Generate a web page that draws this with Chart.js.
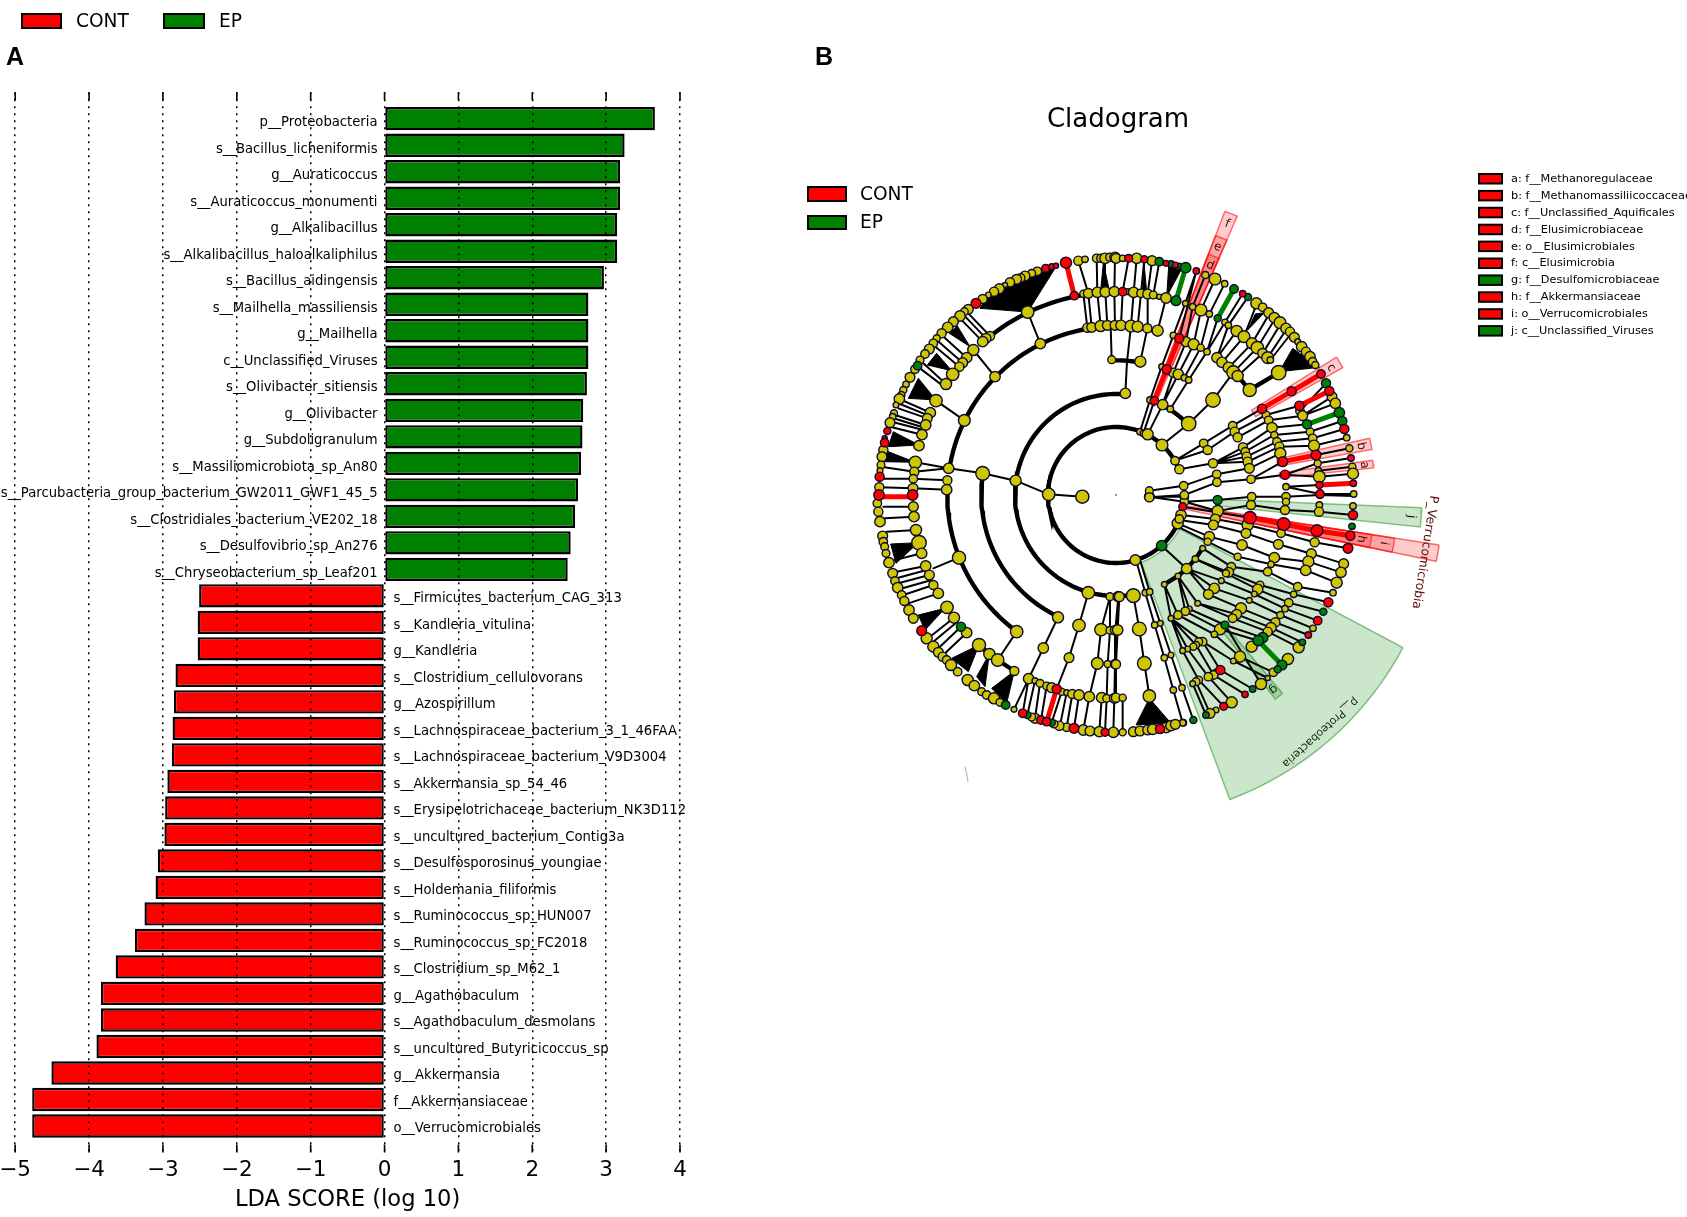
<!DOCTYPE html>
<html><head><meta charset="utf-8">
<style>html,body{margin:0;padding:0;background:#fff;width:1687px;height:1217px;overflow:hidden}
canvas{position:absolute;top:0}#a{left:0}#b{left:720px}</style>
<script src="https://cdn.jsdelivr.net/npm/chart.js@4"></script>
</head><body>
<canvas id="a" width="720" height="1217"></canvas>
<canvas id="b" width="967" height="1217"></canvas>
<script>
/* ---------- Panel A data ---------- */
const groupNames=['CONT','EP'];
const epLabels=['p__Proteobacteria','s__Bacillus_licheniformis','g__Auraticoccus','s__Auraticoccus_monumenti','g__Alkalibacillus','s__Alkalibacillus_haloalkaliphilus','s__Bacillus_aidingensis','s__Mailhella_massiliensis','g__Mailhella','c__Unclassified_Viruses','s__Olivibacter_sitiensis','g__Olivibacter','g__Subdoligranulum','s__Massiliomicrobiota_sp_An80','s__Parcubacteria_group_bacterium_GW2011_GWF1_45_5','s__Clostridiales_bacterium_VE202_18','s__Desulfovibrio_sp_An276','s__Chryseobacterium_sp_Leaf201'];
const epValues=[3.66,3.25,3.19,3.19,3.15,3.15,2.97,2.76,2.76,2.76,2.74,2.69,2.68,2.66,2.62,2.58,2.52,2.48];
const contLabels=['s__Firmicutes_bacterium_CAG_313','s__Kandleria_vitulina','g__Kandleria','s__Clostridium_cellulovorans','g__Azospirillum','s__Lachnospiraceae_bacterium_3_1_46FAA','s__Lachnospiraceae_bacterium_V9D3004','s__Akkermansia_sp_54_46','s__Erysipelotrichaceae_bacterium_NK3D112','s__uncultured_bacterium_Contig3a','s__Desulfosporosinus_youngiae','s__Holdemania_filiformis','s__Ruminococcus_sp_HUN007','s__Ruminococcus_sp_FC2018','s__Clostridium_sp_M62_1','g__Agathobaculum','s__Agathobaculum_desmolans','s__uncultured_Butyricicoccus_sp','g__Akkermansia','f__Akkermansiaceae','o__Verrucomicrobiales'];
const contValues=[-2.51,-2.53,-2.53,-2.83,-2.85,-2.87,-2.88,-2.94,-2.97,-2.98,-3.07,-3.10,-3.25,-3.38,-3.64,-3.84,-3.84,-3.90,-4.51,-4.77,-4.77];
const RED='#ff0000',GREEN='#008000';
const sansFont='"DejaVu Sans"';

/* ---------- Panel B data: clade nodes, flat x,y,size triples per quadrant ---------- */
const yellowNW=[625,32,11,645,28,7,502,64,10,485,70,9,465,78,12,452,84,10,440,88,12,420,97,11,405,105,5,388,116,12,372,125,11,355,135,6,338,147,11,295,178,12,283,185,9,270,198,13,250,215,12,233,232,13,215,250,11,200,265,8,190,280,10,178,297,12,165,312,10,150,330,9,135,358,10,120,382,12,108,403,7,100,420,8,94,435,8,88,447,13,78,465,6,72,490,8,68,500,7,60,518,12,40,600,11,36,620,12,33,645,9,30,662,6,28,712,11,
473,186,16,360,258,11,348,265,12,338,275,13,310,300,14,290,323,13,278,338,12,268,350,11,248,373,16,228,402,14,198,452,16,181,488,13,172,505,12,167,525,13,156,554,13,147,587,13,136,637,16,133,665,11,130,686,10,129,715,12,640,131,8,655,130,12,682,127,13,706,126,13,733,125,13,
511,281,13,375,380,13,283,511,15,236,655,13,232,691,11,230,719,13,652,233,11,665,232,12,692,228,14,712,226,12,735,226,12,338,670,18,725,329,9,437,692,14,536,733,16,637,740,17,680,25,10,693,25,10,705,25,13,720,22,10,735,22,13];
const redNW=[588,38,14,527,55,9,545,50,6,558,47,5,318,160,12,52,543,8,44,565,5,44,578,10,29,680,11,27,735,13,613,137,10,128,735,13];
const greenNW=[143,347,10];

const yellowSW=[130,35,12,132,65,13,138,105,14,147,143,19,155,175,13,167,213,13,178,240,12,190,270,11,205,295,13,231,337,16,252,368,14,290,413,13,327,450,17,358,477,14,383,495,16,433,528,11,
22,25,10,25,50,11,30,80,13,38,123,12,40,140,10,44,155,9,48,175,9,57,203,13,68,235,12,75,258,10,83,278,13,95,300,10,103,318,11,117,345,13,130,370,12,170,430,14,190,455,14,205,472,12,218,485,11,230,495,10,243,510,14,263,530,10,293,555,14,313,572,13,335,590,9,350,600,10,372,610,14,390,622,9,432,643,6,
267,188,17,440,410,16,564,367,14,520,459,13,476,551,13,495,557,6,510,565,9,530,573,9,545,578,12,575,590,8,590,593,6,607,597,11,627,600,13,655,293,16,627,391,16,597,488,12,720,305,9,745,305,13,693,404,16,720,406,9,736,406,12,682,505,15,713,507,8,735,507,11,658,605,13,695,608,13,710,610,9,733,610,12,640,705,13,660,708,12,688,710,13,730,712,13,590,697,10,568,692,11,495,670,12,485,666,9,552,687,9];
const redSW=[155,407,12,560,582,11,458,655,10,513,675,10,530,680,10,705,712,9,612,700,12];
const greenSW=[273,395,11,407,630,10,472,660,8,545,683,8];

const yellowSE=[100,5,12,205,5,10,205,20,10,195,60,13,185,85,14,190,72,10,305,48,14,298,72,12,292,90,12,280,125,13,275,140,8,407,5,10,405,30,11,395,90,14,390,115,12,378,150,13,365,185,8,346,215,10,338,232,12,330,235,8,510,5,10,510,20,8,507,45,11,495,115,10,487,148,12,475,188,13,465,208,7,455,230,10,432,270,9,425,283,13,415,297,6,610,30,7,609,50,11,596,142,11,586,176,12,577,200,14,569,226,13,545,275,10,533,298,7,518,323,10,507,341,7,493,360,8,478,382,11,465,398,13,455,410,11,407,455,14,
711,33,7,683,206,12,675,232,13,662,263,14,651,293,7,591,400,7,548,457,14,516,492,14,472,532,10,455,549,5,435,567,14,347,622,14,300,645,6,282,655,12,202,683,7,
375,340,14,362,358,12,350,370,10,312,403,14,295,418,7,400,316,6,295,280,13,277,298,12,316,257,6,245,325,6,260,160,6,238,192,7,212,221,13,186,243,6,145,268,6,58,195,13,
260,440,10,248,440,9,240,450,8,232,455,8,215,462,6,200,467,6,220,342,6,208,349,10,186,360,10,165,370,6,372,485,14,352,498,6,300,532,7,293,540,10,277,545,10,248,555,9,240,560,9,230,566,6,
116,390,7,133,385,6,145,488,7,165,480,6,172,585,7,198,578,7,200,683,7,88,293,7,101,290,7,10,305,12,52,302,18,5,405,13,0,508,11,0,608,11,20,608,8,20,712,8,70,402,18,85,505,18,100,603,16,52,710,12,72,708,12,95,705,12,110,703,13,150,698,13,165,692,13,178,688,12];
const redSE=[200,35,9,402,68,16,503,87,16,612,0,8,603,107,15,711,60,11,703,122,11,696,160,12,637,322,11,605,377,10,577,420,7,387,598,7,323,634,9,313,525,11,132,702,11];
const greenSE=[305,15,11,440,428,13,708,94,7,622,350,8,559,442,7,498,510,12,485,523,8,410,582,7,270,660,7,232,675,8,327,390,9,137,152,13,427,437,13];

const yellowNE=[0,25,12,20,25,7,62,25,13,108,32,12,35,125,6,53,127,13,75,130,10,95,132,12,112,135,9,130,140,5,150,144,13,15,226,13,45,228,15,65,230,14,94,235,11,125,242,14,73,335,14,28,430,13,
72,545,7,82,550,7,95,553,14,102,450,7,140,464,13,163,477,7,137,350,6,172,368,11,187,373,13,205,383,7,218,390,7,172,256,7,210,275,12,233,283,14,254,293,8,273,305,7,208,160,6,230,170,7,255,180,15,280,192,7,268,75,8,297,87,15,326,101,7,
138,585,15,218,521,19,291,450,19,401,420,17,303,323,13,318,337,13,338,353,14,352,367,17,365,378,14,488,368,19,362,243,14,384,260,15,408,280,14,424,293,16,440,310,12,455,323,15,463,330,7,
421,160,14,440,172,10,458,188,12,475,203,13,492,218,15,510,235,13,522,245,11,535,262,12,545,275,6,557,290,13,570,305,11,582,320,13,590,335,10,598,345,8,327,217,7,337,226,7,
177,632,10,190,658,11,263,580,10,275,600,11,291,640,11,350,527,10,356,545,11,365,562,11,381,592,11,388,605,10,392,620,11,395,635,11,400,655,12,405,688,10,302,673,10,303,697,10,450,495,9,458,511,10,468,533,13,475,555,8,483,575,10,490,590,11,493,610,14,510,710,7,552,483,10,560,497,12,582,545,9,590,565,10,594,587,14,605,640,8,607,662,7,610,680,15,648,440,12,658,460,13,692,563,7,700,595,8,709,650,8,711,671,14,713,732,7,100,722,9,100,742,11,203,707,10,205,735,10];
const redNE=[20,125,10,38,25,9,85,28,8,150,40,6,178,45,6,115,452,10,152,358,11,190,265,11,241,63,7,380,131,7,438,476,11,527,424,11,615,372,10,550,467,11,640,423,11,685,537,11,500,635,12,600,615,12,705,624,7,507,674,11,610,705,8,712,700,7,612,732,10];
const greenNE=[130,35,10,165,42,7,190,47,5,209,53,13,180,152,12,305,205,8,354,117,10,396,141,8,630,400,11,670,488,13,679,513,11,573,523,11];

/* thin branches: each path is x,y,x,y… in the quadrant's units */
const pathsNW=[[637,740,536,733],[437,692,338,670],[338,670,236,655,136,637],[232,691,130,686,30,686],[230,719,129,715,28,712],[511,281,473,186],[375,380,310,300],[283,511,198,452],[437,692,536,733],[360,258,295,190],[348,265,283,197],[338,275,270,205],[290,323,215,255],[278,338,200,270],[268,350,190,285],[228,402,160,340],[222,410,150,355],[181,488,95,450],[176,497,90,462],[172,505,85,475],[167,525,75,495],[164,533,70,505],[160,540,65,515],[156,554,60,530],[133,665,33,650],[236,655,133,665],[652,233,640,131],[665,232,655,130,625,32],[692,228,682,127,680,25],[712,226,706,126,705,25],[735,226,733,125,735,22],[725,329,722,226]];
const pathsSW=[[130,35,40,35],[132,65,45,70],[138,105,50,110],[155,175,75,195],[167,213,80,230],[170,225,85,248],[178,240,85,265],[185,255,90,282],[190,270,100,300],[205,295,115,325],[252,368,180,425],[262,380,190,440],[273,395,205,460],[290,413,225,475],[267,188,190,220],[440,410,383,495],[655,293,627,391,597,488,560,582],[564,367,520,459,476,551,432,643],[720,305,693,404,682,505,658,605,640,705],[720,305,720,406,713,507,710,610,705,712],[745,305,736,406,735,507,733,610,730,712],[495,557,472,660],[510,565,495,670],[530,573,513,675],[575,590,545,683],[590,593,570,692],[607,597,590,697],[627,600,612,700],[476,551,458,655],[695,608,688,710],[735,507,733,610]];
const pathsSE=[[200,35,402,68],[195,60,298,72,395,90,495,115,596,142,696,160],[190,75,292,90,390,115,487,148,586,176,683,206],[185,85,280,125,378,150,475,188,577,200,675,232],[185,95,275,140,365,185,465,208,569,226,662,263],[260,160,346,215,455,230,545,275,651,293],[238,192,338,232,432,270,533,298,637,322],[238,192,330,235,425,283,518,323,622,350],[212,221,316,257,415,297,507,341,605,377],[212,221,295,280,400,316,493,360,591,400],[212,221,277,298,375,340,478,382,577,420],[186,243,245,325,362,358,465,398,559,442],[245,325,350,370,455,410,548,457],[220,342,327,390,440,428],[208,349,312,403,427,437],[186,360,295,418,372,485,472,532],[165,370,260,440,352,498,455,549],[260,440,313,525,410,582],[240,450,293,540,387,598],[215,462,277,545,347,622],[200,467,248,555,323,634],[186,243,220,342],[186,243,208,349],[145,268,186,360],[145,268,165,370],[165,370,240,450],[165,370,215,462],[165,370,200,467],[240,560,282,655],[230,566,270,660],[137,152,212,221],[60,195,88,293,116,390,145,488,172,585,200,683],[72,195,101,290,133,385,165,480,198,578,232,675],[10,305,5,405,0,508,0,608],[20,608,20,712],[52,302,70,402,85,505,100,603],[305,15,407,5,510,5,612,0,711,3],[305,48,405,30,507,45,609,50,711,60],[100,5,205,5],[100,5,205,20],[205,20,305,15],[205,20,305,48],[327,390,435,567],[298,72,305,48]];
const pathsNE=[[73,335,94,235],[33,335,28,430],[33,335,45,228],[15,226,20,125,38,25],[45,228,53,127,62,25],[65,230,75,130,85,28],[94,235,95,132,108,32],[112,135,130,35],[125,242,150,144],[72,545,102,450,137,350,172,256,208,160,241,63],[82,550,115,452],[190,265,241,63],[95,553,140,464,172,368,210,275,230,170,268,75],[140,464,187,373,233,283,255,180,297,87],[163,477,218,390,273,305,305,205],[205,383,254,293,280,192,326,101],[218,521,163,477],[138,585,218,521],[218,521,291,450],[291,450,352,367],[401,420,488,368],[303,323,362,243],[318,337,384,260,421,165],[338,353,408,280,458,195],[352,367,424,293,475,210],[365,378,440,310,492,225],[455,323,510,240],[463,330,522,255],[273,305,327,217,380,131],[303,323,337,226,396,141],[177,632,263,580,350,527,438,476],[275,600,356,545,450,495,550,467],[177,632,275,600],[190,658,291,640],[365,562,458,511,560,497,658,460],[291,640,381,592,468,533,573,523],[291,640,388,605,475,555,582,545,679,513],[291,640,392,620,483,575,590,565,685,537],[291,640,395,635,490,590,594,587,692,563],[302,673,400,655,493,610],[303,697,405,688,500,635],[203,707,302,673],[205,735,303,697],[100,722,203,707],[100,742,205,735],[405,688,507,674,605,640,705,624],[507,674,610,680,711,671],[510,710,610,705],[607,662,709,650],[510,710,612,732,713,732],[560,497,648,440],[600,615,700,595],[552,483,630,400]];
/* thick branches outside the arcs */
const thickNE=[[488,368,401,420,365,378]];
const thickSW=[[327,450,358,477,383,495,433,528]];
const thickSE=[[260,160,238,192,212,221,186,243,145,268]];
/* coloured emphasised branches */
const redBranchesNW=[[613,137,588,38]];
const redBranchesSW=[[128,5,27,5],[560,582,530,680]];
const redBranchesSE=[[402,68,503,87,603,107,703,122]];
const redBranchesNE=[[115,452,152,358,190,265],[438,476,527,424,615,372],[550,467,640,423],[500,635,600,615],[610,705,712,700]];
const greenBranchesSE=[[427,437,498,510]];
const greenBranchesNE=[[180,152,209,53],[305,205,354,117],[573,523,670,488]];
/* collapsed fans, drawn solid */
const fansNW=[[473,186,330,175,355,135,450,88,555,55],[300,290,262,228,238,250],[245,362,200,310,172,345],[198,450,145,385,115,445],[147,585,70,545,55,590],[136,637,55,605,40,635],[700,40,692,120,718,120]];
const fansSW=[[145,143,62,147,78,205],[225,340,145,360,165,405],[327,450,245,490,295,530],[358,477,320,545,345,575],[433,528,365,580,410,625]];
const fansSE=[[100,610,60,690,165,685]];
const fansNE=[[152,140,158,50,195,60],[80,125,84,40,92,125],[490,365,530,295,610,352],[445,188,418,192,395,240]];
/* main ring arcs: radius, from, to (degrees, clockwise from east) */
const ringArcs=[[204,-22,-286.6],[204,24.7,73.4],[303,-85,-280],[303,-68,-44.5],[404,-79.6,-92],[404,-171,-244.6],[506,-75.8,-171],[506,-178,-234],[608,-72.8,-128.4]];
/* highlighted clade sectors: from, to (deg), inner, outer radius, group */
const sectorTable=[[28,69.5,72,325,'g'],[2.4,6,100,306,'g'],[50,52,165,259,'g'],[8.8,11.7,73,327,'r'],[8.8,11.7,107,282,'r'],[8.8,11.7,140,259,'r'],[-32,-29.3,160,260,'r'],[-12.6,-10.1,165,260,'r'],[-7.7,-6,165,259,'r'],[-69,-66.5,97,304,'r'],[-69,-66.5,130,278,'r'],[-69,-66.5,165,258,'r']];
const sectorLetters=[['f',-67.7,293],['e',-67.7,268],['d',-67.7,248],['c',-30.6,250],['b',-11.3,250],['a',-6.9,250],['j',4.2,296],['i',10.2,272],['h',10.2,249],['g',51,250]];
const cladeNames=['a: f__Methanoregulaceae','b: f__Methanomassiliicoccaceae','c: f__Unclassified_Aquificales','d: f__Elusimicrobiaceae','e: o__Elusimicrobiales','f: c__Elusimicrobia','g: f__Desulfomicrobiaceae','h: f__Akkermansiaceae','i: o__Verrucomicrobiales','j: c__Unclassified_Viruses'];
const cladeColours=[RED,RED,RED,RED,RED,RED,GREEN,RED,RED,GREEN];

/* ---------- Panel A ---------- */
function legendBox(ctx,x,y,w,h,c,lw){ctx.fillStyle=c;ctx.strokeStyle='#000';ctx.lineWidth=lw;ctx.fillRect(x,y,w,h);ctx.strokeRect(x,y,w,h);}
const panelA={id:'panelA',
 afterDatasetsDraw(c){const ctx=c.ctx,xs=c.scales.x,ys=c.scales.y;ctx.save();
  ctx.font='13.2px '+sansFont;ctx.fillStyle='#000';ctx.textBaseline='middle';
  ctx.textAlign='right';epLabels.forEach((t,i)=>ctx.fillText(t,xs.getPixelForValue(0)-7,ys.getPixelForValue(i)+4));
  ctx.textAlign='left';contLabels.forEach((t,i)=>ctx.fillText(t,xs.getPixelForValue(0)+9,ys.getPixelForValue(i+epLabels.length)+3));
  ctx.restore();},
 afterDraw(c){const ctx=c.ctx,xs=c.scales.x,a=c.chartArea;ctx.save();
  ctx.strokeStyle='#000';ctx.lineWidth=1.6;
  for(let v=xs.min;v<=xs.max;v++){const p=xs.getPixelForValue(v);ctx.beginPath();ctx.moveTo(p,a.top);ctx.lineTo(p,a.top+8);ctx.moveTo(p,a.bottom-8);ctx.lineTo(p,a.bottom);ctx.stroke();}
  legendBox(ctx,22,14,39,14,RED,2);legendBox(ctx,164,14,40,14,GREEN,2);
  ctx.fillStyle='#000';ctx.textBaseline='middle';ctx.textAlign='left';ctx.font='18.6px '+sansFont;
  ctx.fillText(groupNames[0],76,22);ctx.fillText(groupNames[1],219,22);
  ctx.font='bold 25px "Liberation Sans"';ctx.fillText('A',6,58);
  ctx.restore();}};
const nE=epValues.length;
new Chart(document.getElementById('a'),{type:'bar',plugins:[panelA],
 data:{datasets:[
  {label:groupNames[0],data:contValues.map((v,i)=>({x:v,y:i+nE})),backgroundColor:RED,borderColor:'#000',borderWidth:2.4,borderSkipped:false},
  {label:groupNames[1],data:epValues.map((v,i)=>({x:v,y:i})),backgroundColor:GREEN,borderColor:'#000',borderWidth:2.4,borderSkipped:false}]},
 options:{indexAxis:'y',responsive:false,animation:false,devicePixelRatio:1,
  layout:{autoPadding:false,padding:{left:15.2,right:40,top:92.2,bottom:0}},
  datasets:{bar:{grouped:false,barPercentage:0.88,categoryPercentage:1}},
  plugins:{legend:{display:false},tooltip:{enabled:false}},
  scales:{
   y:{type:'linear',display:false,reverse:true,offset:false,min:-1,max:39},
   x:{type:'linear',min:-5,max:4,offset:false,afterFit(s){s.height=64.5;s.paddingLeft=0;s.paddingRight=0;},
    border:{display:false,dash:[2,5]},
    grid:{z:1,drawTicks:false,color:'#000',lineWidth:1.5},
    ticks:{stepSize:1,padding:5,maxRotation:0,color:'#000',font:{family:'DejaVu Sans',size:21.5},callback:v=>v<0?'\u2212'+Math.abs(v):String(v)},
    title:{display:true,text:'LDA SCORE (log 10)',color:'#000',font:{family:'DejaVu Sans',size:22.6},padding:{top:0,bottom:3.8}}}}}});

/* ---------- Panel B ---------- */
const ORIGINS={NW:[-738,-735],SW:[-738,0],SE:[0,0],NE:[0,-735]};
function triples(flat,o){const out=[];for(let i=0;i<flat.length;i+=3)out.push({x:flat[i]+o[0],y:flat[i+1]+o[1],s:flat[i+2]});return out;}
function pathPts(paths,o){const out=[];paths.forEach(p=>{for(let i=0;i<p.length;i+=2)out.push({x:p[i]+o[0],y:p[i+1]+o[1]});out.push({x:NaN,y:NaN});});return out;}
function arcPts(r,a,b){const n=Math.max(2,Math.ceil(Math.abs(b-a)/2)),out=[];for(let i=0;i<=n;i++){const t=(a+(b-a)*i/n)*Math.PI/180;out.push({x:r*Math.cos(t),y:r*Math.sin(t)});}return out;}
function sectorPts(s){const a=arcPts(s[3]*3,s[0],s[1]),b=arcPts(s[2]*3,s[1],s[0]);const p=a.concat(b);p.push(p[0]);return p;}
const nodeR=x=>x.raw?x.raw.s/3+0.9:0;
function nodeDs(c,list){return {type:'scatter',data:list,backgroundColor:c,pointBackgroundColor:c,pointBorderColor:'#0a0a30',pointBorderWidth:1.4,pointRadius:nodeR,pointHoverRadius:nodeR,showLine:false};}
function lineDs(data,color,w){return {data,showLine:true,borderColor:color,borderWidth:w,pointRadius:0,pointHoverRadius:0,tension:0,spanGaps:false,borderCapStyle:'round',fill:false};}
function polyDs(flat,o){const p=[];for(let i=0;i<flat.length;i+=2)p.push({x:flat[i]+o[0],y:flat[i+1]+o[1]});p.push(p[0]);return {data:p,showLine:true,borderColor:'#000',borderWidth:1,backgroundColor:'#000',pointRadius:0,pointHoverRadius:0,tension:0,fill:'shape'};}
const Q=[[ 'NW',yellowNW,redNW,greenNW,pathsNW,fansNW],['SW',yellowSW,redSW,greenSW,pathsSW,fansSW],['SE',yellowSE,redSE,greenSE,pathsSE,fansSE],['NE',yellowNE,redNE,greenNE,pathsNE,fansNE]];
const yellowNodes=[],redNodes=[],greenNodes=[],thinPts=[],fanSets=[];
Q.forEach(q=>{const o=ORIGINS[q[0]];yellowNodes.push(...triples(q[1],o));redNodes.push(...triples(q[2],o));greenNodes.push(...triples(q[3],o));thinPts.push(...pathPts(q[4],o));q[5].forEach(f=>fanSets.push(polyDs(f,o)));});
const thickPts=[...pathPts(thickNE,ORIGINS.NE),...pathPts(thickSW,ORIGINS.SW),...pathPts(thickSE,ORIGINS.SE)];
ringArcs.forEach(a=>{thickPts.push(...arcPts(a[0],a[1],a[2]));thickPts.push({x:NaN,y:NaN});});
const redEdge=[...pathPts(redBranchesNW,ORIGINS.NW),...pathPts(redBranchesSW,ORIGINS.SW),...pathPts(redBranchesSE,ORIGINS.SE),...pathPts(redBranchesNE,ORIGINS.NE)];
const greenEdge=[...pathPts(greenBranchesSE,ORIGINS.SE),...pathPts(greenBranchesNE,ORIGINS.NE)];
const sectorSets=sectorTable.map(s=>({data:sectorPts(s),showLine:true,tension:0,pointRadius:0,pointHoverRadius:0,fill:'shape',
  backgroundColor:s[4]==='g'?'rgba(0,128,0,0.2)':'rgba(255,0,0,0.2)',borderColor:s[4]==='g'?'rgba(0,128,0,0.45)':'rgba(255,0,0,0.55)',borderWidth:1.5}));
const strayMark=lineDs([{x:-453,y:816},{x:-447,y:840},{x:-444,y:861}],'#a8bfd6',1.2);
const rootDot={x:0,y:0,s:0};
const panelB={id:'panelB',afterDatasetsDraw(c){const ctx=c.ctx,xs=c.scales.x,ys=c.scales.y;ctx.save();
  const P=(phi,r)=>{const t=phi*Math.PI/180;return [xs.getPixelForValue(3*r*Math.cos(t)),ys.getPixelForValue(3*r*Math.sin(t))];};
  ctx.textAlign='center';ctx.textBaseline='middle';
  const rot=(t,px,py,deg,font,col)=>{ctx.save();ctx.translate(px,py);ctx.rotate(deg*Math.PI/180);ctx.font=font;ctx.fillStyle=col;ctx.fillText(t,0,0);ctx.restore();};
  sectorLetters.forEach(l=>{const p=P(l[1],l[2]);rot(l[0],p[0],p[1],l[1]+90,'12px '+sansFont,(l[0]==='g'||l[0]==='j')?'#0a2a0a':'#4a0505');});
  const pv=P(10.5,314);rot('P_Verrucomicrobia',pv[0],pv[1],99,'12.4px '+sansFont,'#5a0a0a');
  const pp=P(49.3,313);rot('p__Proteobacteria',pp[0],pp[1],138,'11px '+sansFont,'#0a2a0a');
  ctx.restore();},
 afterDraw(c){const ctx=c.ctx;ctx.save();ctx.translate(-720,0);
  ctx.fillStyle='#000';ctx.textBaseline='middle';ctx.textAlign='center';
  ctx.font='26px '+sansFont;ctx.fillText('Cladogram',1118,120);
  ctx.textAlign='left';ctx.font='bold 25px "Liberation Sans"';ctx.fillText('B',815,58);
  legendBox(ctx,808,187,38,14,RED,2);legendBox(ctx,808,216,38,13,GREEN,2);
  ctx.fillStyle='#000';ctx.font='18.6px '+sansFont;ctx.fillText(groupNames[0],860,195);ctx.fillText(groupNames[1],860,223);
  cladeNames.forEach((t,i)=>{const y=179+i*16.9;legendBox(ctx,1479,y-5,23,9.5,cladeColours[i],2);ctx.fillStyle='#000';ctx.font='11.3px '+sansFont;ctx.fillText(t,1511,y);});
  ctx.restore();}};
new Chart(document.getElementById('b'),{type:'scatter',plugins:[panelB],
 data:{datasets:[
  nodeDs(RED,redNodes),nodeDs(GREEN,greenNodes),nodeDs('#cfc600',yellowNodes),
  Object.assign(nodeDs('#6b6b00',[rootDot]),{pointBorderWidth:0}),
  lineDs(redEdge,RED,5),lineDs(greenEdge,GREEN,5),
  lineDs(thinPts,'#000',2),lineDs(thickPts,'#000',4.4),
  ...fanSets,strayMark,...sectorSets]},
 options:{responsive:false,animation:false,devicePixelRatio:1,
  layout:{autoPadding:false,padding:0},
  plugins:{legend:{display:false},tooltip:{enabled:false}},
  scales:{x:{type:'linear',display:false,min:-1188,max:1713},y:{type:'linear',display:false,reverse:true,min:-1485,max:2166}}}});
</script>
</body></html>
